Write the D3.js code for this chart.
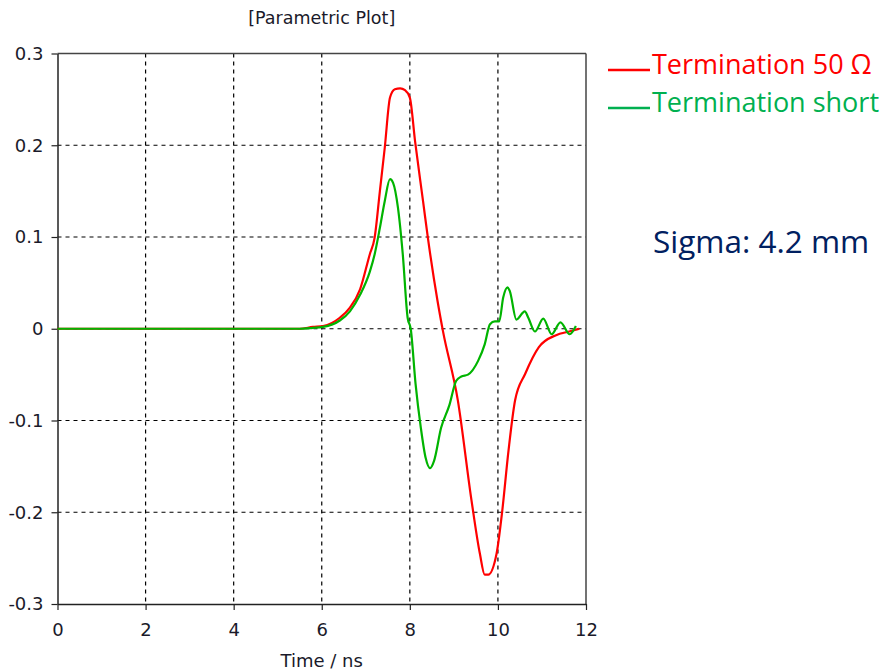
<!DOCTYPE html>
<html>
<head>
<meta charset="utf-8">
<script src="https://cdn.jsdelivr.net/npm/d3@7"></script>
<style>
  body { margin: 0; background: #fff; }
  svg { display: block; }
</style>
</head>
<body>
<div id="chart"></div>
<script>
// time axis in ns
var timeTicks = [0, 2, 4, 6, 8, 10, 12];
var valueTicks = [-0.3, -0.2, -0.1, 0, 0.1, 0.2, 0.3];

var red50 = [
    [0, 0], [5.5, 0], [5.8, 0.002], [6.03, 0.003], [6.41, 0.012], [6.64, 0.023],
    [6.87, 0.043], [7.09, 0.081], [7.2, 0.099], [7.32, 0.15], [7.43, 0.197],
    [7.55, 0.252], [7.66, 0.261], [7.78, 0.262], [7.89, 0.26], [8.0, 0.252],
    [8.12, 0.204], [8.3, 0.139], [8.41, 0.099], [8.63, 0.03], [8.75, -0.002],
    [9.09, -0.078], [9.4, -0.187], [9.59, -0.245], [9.7, -0.268], [9.78, -0.268],
    [9.97, -0.245], [10.09, -0.202], [10.24, -0.133], [10.39, -0.078],
    [10.62, -0.049], [10.93, -0.02], [11.32, -0.007], [11.62, -0.003], [11.85, 0]
];

var greenShort = [
    [0, 0], [5.5, 0], [5.8, 0.001], [6.03, 0.002], [6.41, 0.009], [6.64, 0.019],
    [6.87, 0.037], [7.09, 0.062], [7.2, 0.081], [7.32, 0.11], [7.43, 0.139],
    [7.55, 0.163], [7.62, 0.159], [7.73, 0.132], [7.84, 0.081], [7.95, 0.012],
    [8.02, 0], [8.13, -0.06], [8.25, -0.108], [8.36, -0.141], [8.46, -0.152],
    [8.55, -0.144], [8.71, -0.108], [8.9, -0.083], [9.05, -0.057], [9.17, -0.052],
    [9.32, -0.05], [9.55, -0.035], [9.7, -0.017], [9.82, 0.005], [9.93, 0.008],
    [10.03, 0.008], [10.12, 0.034], [10.22, 0.045], [10.27, 0.041], [10.42, 0.01],
    [10.61, 0.019], [10.69, 0.012], [10.84, -0.003], [11.03, 0.011], [11.22, -0.006],
    [11.42, 0.007], [11.63, -0.006], [11.77, 0.003]
];

var width = 888, height = 671;
var margin = {top: 53.5, left: 57.5, right: 302, bottom: 67};
var plotW = width - margin.left - margin.right;
var plotH = height - margin.top - margin.bottom;

var svg = d3.select("#chart").append("svg")
    .attr("width", width)
    .attr("height", height);

var x = d3.scaleLinear().domain([0, 12]).range([0, plotW]);
var y = d3.scaleLinear().domain([-0.3, 0.3]).range([plotH, 0]);

var g = svg.append("g")
    .attr("transform", "translate(" + margin.left + "," + margin.top + ")");

// dashed grid
g.selectAll(".vgrid")
    .data(timeTicks.slice(1, -1))
    .enter().append("line")
    .attr("x1", d => x(d)).attr("x2", d => x(d))
    .attr("y1", 0).attr("y2", plotH)
    .attr("stroke", "#000").attr("stroke-width", 1.2)
    .attr("stroke-dasharray", "4,4");

g.selectAll(".hgrid")
    .data(valueTicks.slice(1, -1))
    .enter().append("line")
    .attr("x1", 0).attr("x2", plotW)
    .attr("y1", d => y(d)).attr("y2", d => y(d))
    .attr("stroke", "#000").attr("stroke-width", 1.2)
    .attr("stroke-dasharray", "4,4");

// frame: top and right
g.append("line").attr("x1", 0).attr("x2", plotW).attr("y1", 0).attr("y2", 0)
    .attr("stroke", "#444").attr("stroke-width", 1.5);
g.append("line").attr("x1", plotW).attr("x2", plotW).attr("y1", 0).attr("y2", plotH)
    .attr("stroke", "#444").attr("stroke-width", 1.5);

var tickFont = "'DejaVu Sans', Tahoma, sans-serif";

// axes
var xAxis = g.append("g")
    .attr("transform", "translate(0," + plotH + ")")
    .call(d3.axisBottom(x).tickValues(timeTicks).tickSize(6).tickPadding(13).tickSizeOuter(0));
var yAxis = g.append("g")
    .call(d3.axisLeft(y).tickValues(valueTicks).tickSize(6).tickPadding(8).tickSizeOuter(0)
        .tickFormat(d => d === 0 ? "0" : d.toFixed(1)));

[xAxis, yAxis].forEach(function(a) {
    a.select(".domain").attr("stroke", "#222").attr("stroke-width", 1.5);
    a.selectAll(".tick line").attr("stroke", "#222").attr("stroke-width", 1.2);
    a.selectAll("text")
        .attr("fill", "#1a1a2a")
        .attr("font-family", tickFont)
        .attr("font-size", 18);
});

// curves
var line = d3.line()
    .x(d => x(d[0]))
    .y(d => y(d[1]))
    .curve(d3.curveMonotoneX);

g.append("path").datum(red50)
    .attr("d", line)
    .attr("fill", "none")
    .attr("stroke", "#ff0000")
    .attr("stroke-width", 2.2);

g.append("path").datum(greenShort)
    .attr("d", line)
    .attr("fill", "none")
    .attr("stroke", "#00b400")
    .attr("stroke-width", 2.2);

// titles
svg.append("text")
    .attr("x", margin.left + plotW / 2)
    .attr("y", 24)
    .attr("text-anchor", "middle")
    .attr("fill", "#1a1a2a")
    .style("font-family", tickFont)
    .style("font-size", "17.5px")
    .text("[Parametric Plot]");

svg.append("text")
    .attr("x", margin.left + plotW / 2)
    .attr("y", 667)
    .attr("text-anchor", "middle")
    .attr("fill", "#1a1a2a")
    .style("font-family", tickFont)
    .style("font-size", "18px")
    .text("Time / ns");

// legend
var legend = [
    {name: "Termination 50 \u03A9", color: "#ff0000", y: 65},
    {name: "Termination short", color: "#00b050", y: 103}
];
var lg = svg.selectAll(".legend").data(legend).enter().append("g");
lg.append("line")
    .attr("x1", 608).attr("x2", 650)
    .attr("y1", d => d.y + 5).attr("y2", d => d.y + 5)
    .attr("stroke", d => d.color)
    .attr("stroke-width", 2.5);
lg.append("text")
    .attr("x", 652)
    .attr("y", d => d.y + 9)
    .attr("fill", d => d.color)
    .style("font-family", "'Open Sans', sans-serif")
    .style("font-size", "27px")
    .text(d => d.name);

svg.append("text")
    .attr("x", 653)
    .attr("y", 253)
    .attr("fill", "#002060")
    .style("font-family", "'Open Sans', sans-serif")
    .style("font-size", "31.5px")
    .text("Sigma: 4.2 mm");
</script>
</body>
</html>
